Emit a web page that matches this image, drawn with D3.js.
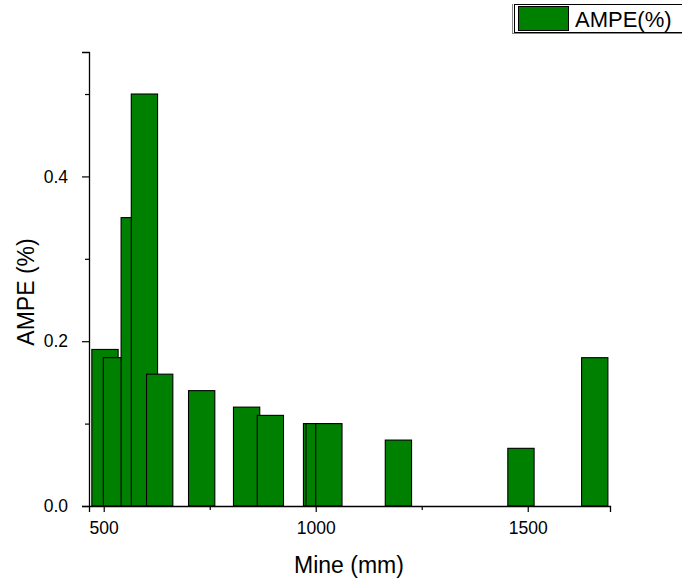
<!DOCTYPE html>
<html>
<head>
<meta charset="utf-8">
<script src="https://cdn.jsdelivr.net/npm/d3@7"></script>
<style>
  body { margin: 0; background: #fff; }
  svg text { font-family: Arial, "Liberation Sans", sans-serif; fill: #000; }
</style>
</head>
<body>
<svg id="chart" width="682" height="588"></svg>
<script>
// mine size (mm) and AMPE (%)
var mine = [503, 530, 572, 596, 632, 731, 837, 893, 1002, 1008, 1031, 1195, 1484, 1658]
var ampe = [0.19, 0.18, 0.35, 0.5, 0.16, 0.14, 0.12, 0.11, 0.1, 0.1, 0.1, 0.08, 0.07, 0.18]
var xMajor = [500, 1000, 1500]
var xMinor = [750, 1250]
var yMajor = [0, 0.2, 0.4]
var yMinor = [0.1, 0.3, 0.5]
var seriesName = "AMPE(%)"

var barW = 62 // bar width in mm units
var green = "#008000"

var svg = d3.select("#chart")

var x = d3.scaleLinear().domain([465.3, 1694]).range([89, 610])
var y = d3.scaleLinear().domain([0, 0.551]).range([506, 52])

// bars, drawn in order so later ones sit on top
svg.append("g").selectAll("rect")
  .data(mine.map(function(m, i) { return {m: m, v: ampe[i]} }))
  .enter().append("rect")
  .attr("x", function(d) { return x(d.m - barW / 2) })
  .attr("width", function(d) { return x(d.m + barW / 2) - x(d.m - barW / 2) })
  .attr("y", function(d) { return y(d.v) })
  .attr("height", function(d) { return y(0) - y(d.v) })
  .attr("fill", green)
  .attr("stroke", "#000")
  .attr("stroke-width", 1.1)

// x axis
var gx = svg.append("g").attr("transform", "translate(0," + y(0) + ")")
gx.call(d3.axisBottom(x).tickValues(xMajor).tickSize(6).tickPadding(10).tickFormat(d3.format("d")))
svg.append("g").attr("transform", "translate(0," + y(0) + ")")
  .call(d3.axisBottom(x).tickValues(xMinor).tickSize(4).tickFormat(""))
  .select(".domain").remove()

// y axis
var gy = svg.append("g").attr("transform", "translate(" + x.range()[0] + ",0)")
gy.call(d3.axisLeft(y).tickValues(yMajor).tickSize(7).tickPadding(14).tickFormat(d3.format(".1f")))
svg.append("g").attr("transform", "translate(" + x.range()[0] + ",0)")
  .call(d3.axisLeft(y).tickValues(yMinor).tickSize(4).tickFormat(""))
  .select(".domain").remove()

svg.selectAll(".domain").attr("stroke-width", 1.3)
svg.selectAll(".tick line").attr("stroke-width", 1.2)
svg.selectAll(".tick text")
  .style("font-size", "17.5px")
  .style("font-family", "Arial, 'Liberation Sans', sans-serif")
  .attr("fill", "#000")

// axis titles
svg.append("text")
  .attr("x", 349).attr("y", 573)
  .attr("text-anchor", "middle")
  .style("font-size", "23px")
  .text("Mine (mm)")

svg.append("text")
  .attr("transform", "translate(34,292) rotate(-90)")
  .attr("text-anchor", "middle")
  .style("font-size", "23px")
  .text("AMPE (%)")

// legend
var lg = svg.append("g")
lg.append("line").attr("x1", 512.5).attr("x2", 512.5).attr("y1", 4).attr("y2", 34)
  .attr("stroke", "#888").attr("stroke-width", 1)
lg.append("line").attr("x1", 512.5).attr("x2", 690).attr("y1", 33.5).attr("y2", 33.5)
  .attr("stroke", "#888").attr("stroke-width", 1)
lg.append("rect").attr("x", 514.5).attr("y", 4.5).attr("width", 180).attr("height", 28)
  .attr("fill", "#fff").attr("stroke", "#000").attr("stroke-width", 1)
lg.append("rect").attr("x", 518.5).attr("y", 6.5).attr("width", 50).attr("height", 24)
  .attr("fill", green).attr("stroke", "#000").attr("stroke-width", 1)
lg.append("text").attr("x", 575).attr("y", 27)
  .style("font-size", "22px")
  .text(seriesName)
</script>
</body>
</html>
